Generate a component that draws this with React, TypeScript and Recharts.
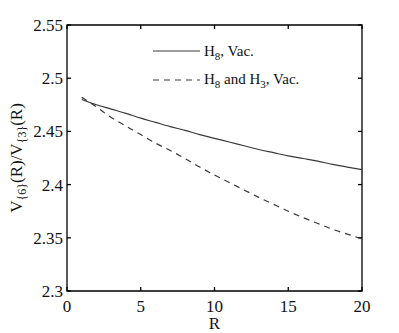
import { LineChart, Line, XAxis, YAxis, Label, Customized } from 'recharts';

const rValues = [1, 2, 3, 4, 5, 6, 7, 8, 9, 10, 11, 12, 13, 14, 15, 16, 17, 18, 19, 20];
const h8Vac = [
  2.48, 2.475, 2.471, 2.467, 2.4625, 2.4585, 2.4545, 2.451, 2.447, 2.4435,
  2.44, 2.4365, 2.433, 2.43, 2.427, 2.4245, 2.422, 2.419, 2.4165, 2.414,
];
const h8h3Vac = [
  2.482, 2.473, 2.463, 2.455, 2.447, 2.439, 2.432, 2.4245, 2.4165, 2.409,
  2.402, 2.395, 2.388, 2.3815, 2.375, 2.369, 2.3635, 2.358, 2.3535, 2.349,
];
const xTicks = [0, 5, 10, 15, 20];
const yTicks = [2.3, 2.35, 2.4, 2.45, 2.5, 2.55];
const xDomain = [0, 20];
const yDomain = [2.3, 2.55];

const data = rValues.map((r, i) => ({ r, h8: h8Vac[i], h8h3: h8h3Vac[i] }));

const FONT = "'Liberation Serif', 'DejaVu Serif', serif";
const serif = { fontFamily: FONT };
const INK = '#000';
const LINE = '#3a3a3a';

// plot box geometry, fixed by the chart margins below
const W = 399;
const H = 333;
const M = { top: 25, right: 37, bottom: 0, left: 0 };
const X_AXIS_H = 42;
const Y_AXIS_W = 67;
const LEFT = M.left + Y_AXIS_W;
const TOP = M.top;
const PLOT_W = W - M.left - M.right - Y_AXIS_W;
const PLOT_H = H - M.top - M.bottom - X_AXIS_H;

const BottomTick = ({ x, y, payload }: any) => (
  <text x={x} y={y + 21} textAnchor="middle" fontFamily={FONT} style={serif} fontSize={17} fill="#111">
    {payload.value}
  </text>
);

const LeftTick = ({ x, y, payload }: any) => (
  <text x={x - 4} y={y + 6} textAnchor="end" fontFamily={FONT} style={serif} fontSize={17} fill="#111">
    {String(payload.value)}
  </text>
);

// box frame with matlab-style inward ticks on all four sides
const Frame = () => {
  const bottom = TOP + PLOT_H;
  const right = LEFT + PLOT_W;
  const px = (v: number) => LEFT + ((v - xDomain[0]) / (xDomain[1] - xDomain[0])) * PLOT_W;
  const py = (v: number) => bottom - ((v - yDomain[0]) / (yDomain[1] - yDomain[0])) * PLOT_H;
  return (
    <g stroke={INK} strokeWidth={1.3} fill="none">
      <path d={`M${LEFT},${TOP}H${right}V${bottom}H${LEFT}Z`} />
      {xTicks.map((t) => (
        <g key={'x' + t}>
          <line x1={px(t)} y1={bottom} x2={px(t)} y2={bottom - 4} />
          <line x1={px(t)} y1={TOP} x2={px(t)} y2={TOP + 4} />
        </g>
      ))}
      {yTicks.map((t) => (
        <g key={'y' + t}>
          <line x1={LEFT} y1={py(t)} x2={LEFT + 4} y2={py(t)} />
          <line x1={right} y1={py(t)} x2={right - 4} y2={py(t)} />
        </g>
      ))}
    </g>
  );
};

const YTitle = () => (
  <text
    transform="translate(22,158) rotate(-90)"
    textAnchor="middle"
    fontFamily={FONT}
    style={serif}
    fontSize={17}
    fill="#111"
  >
    <tspan>V</tspan>
    <tspan fontSize={12} dy={4}>{'{6}'}</tspan>
    <tspan dy={-4}>(R)/V</tspan>
    <tspan fontSize={12} dy={4}>{'{3}'}</tspan>
    <tspan dy={-4}>(R)</tspan>
  </text>
);

const XTitle = () => (
  <text x={214.5} y={329} textAnchor="middle" fontFamily={FONT} style={serif} fontSize={17} fill="#111">
    R
  </text>
);

const LegendBox = () => (
  <g fontFamily={FONT} style={serif} fontSize={15} fill="#111">
    <line x1={153} y1={51} x2={200} y2={51} stroke={LINE} strokeWidth={1.2} />
    <text x={204} y={56}>
      <tspan>H</tspan>
      <tspan fontSize={11} dy={4}>8</tspan>
      <tspan dy={-4}>, Vac.</tspan>
    </text>
    <line x1={153} y1={80} x2={200} y2={80} stroke={LINE} strokeWidth={1.2} strokeDasharray="6 5" />
    <text x={204} y={84}>
      <tspan>H</tspan>
      <tspan fontSize={11} dy={4}>8</tspan>
      <tspan dy={-4}> and H</tspan>
      <tspan fontSize={11} dy={4}>3</tspan>
      <tspan dy={-4}>, Vac.</tspan>
    </text>
  </g>
);

export default function App() {
  return (
    <div style={{ width: W, height: H, background: '#fff' }}>
      <style>{'body{margin:0}'}</style>
      <LineChart width={W} height={H} data={data} margin={M}>
        <XAxis
          dataKey="r"
          type="number"
          domain={xDomain}
          ticks={xTicks}
          height={X_AXIS_H}
          tickSize={0}
          tickMargin={0}
          tickLine={false}
          axisLine={false}
          tick={<BottomTick />}
          interval={0}
        >
          <Label content={<XTitle />} />
        </XAxis>
        <YAxis
          type="number"
          domain={yDomain}
          ticks={yTicks}
          width={Y_AXIS_W}
          tickSize={0}
          tickMargin={0}
          tickLine={false}
          axisLine={false}
          tick={<LeftTick />}
          interval={0}
          allowDataOverflow
        >
          <Label content={<YTitle />} />
        </YAxis>
        <Customized component={<Frame />} />
        <Line
          type="monotone"
          dataKey="h8"
          stroke={LINE}
          strokeWidth={1.2}
          dot={false}
          isAnimationActive={false}
        />
        <Line
          type="monotone"
          dataKey="h8h3"
          stroke={LINE}
          strokeWidth={1.2}
          strokeDasharray="6 5"
          dot={false}
          isAnimationActive={false}
        />
        <Customized component={<LegendBox />} />
      </LineChart>
    </div>
  );
}
